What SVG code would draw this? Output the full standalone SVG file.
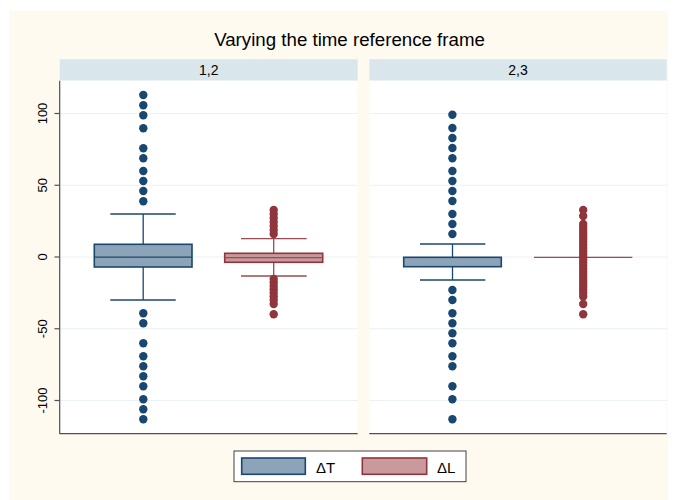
<svg xmlns="http://www.w3.org/2000/svg" width="678" height="500" viewBox="0 0 678 500">
<style>
text{font-family:"Liberation Sans",Arial,sans-serif;fill:#000}
.grid{stroke:#EAF2F3;stroke-width:1.2}
.axis{stroke:#505050;stroke-width:1.2}
.hdr{fill:#D9E6EB}
.bd{fill:#1a476f}
.rd{fill:#90353b}
.bbox{fill:#8DA3B8;stroke:#1a476f;stroke-width:1.6}
.rbox{fill:#C7989C;stroke:#90353b;stroke-width:1.6}
.bl{stroke:#1a476f;stroke-width:1.3;fill:none}
.rl{stroke:#9a4a50;stroke-width:1.3;fill:none}
.tick{font-size:13px}
</style>
<defs>
<circle id="b" r="4.2" class="bd"/>
<circle id="r" r="4.2" class="rd"/>
</defs>
<rect x="0" y="0" width="678" height="500" fill="#FFFFFF"/>
<rect x="9" y="11" width="659" height="489" fill="#FFFAEF"/>
<text x="349.5" y="46" font-size="18.7" text-anchor="middle">Varying the time reference frame</text>

<g id="panel-12">
<rect class="hdr" x="59.7" y="59.3" width="298" height="21.4"/>
<text x="208.7" y="74.5" font-size="14" text-anchor="middle">1,2</text>
<rect x="59.7" y="80.7" width="298" height="353" fill="#FFFFFF"/>
<g>
<line class="grid" x1="60" y1="113.5" x2="357.7" y2="113.5"/>
<line class="grid" x1="60" y1="185.25" x2="357.7" y2="185.25"/>
<line class="grid" x1="60" y1="257" x2="357.7" y2="257"/>
<line class="grid" x1="60" y1="328.75" x2="357.7" y2="328.75"/>
<line class="grid" x1="60" y1="400.5" x2="357.7" y2="400.5"/>
</g>
<g id="box-dT-12">
<line class="bl" x1="143.2" y1="214" x2="143.2" y2="244.3"/>
<line class="bl" x1="143.2" y1="267" x2="143.2" y2="300"/>
<line class="bl" x1="110.3" y1="214" x2="175.7" y2="214"/>
<line class="bl" x1="110.3" y1="300" x2="175.7" y2="300"/>
<rect class="bbox" x="94.3" y="244.3" width="97.7" height="22.7"/>
<line class="bl" x1="94.3" y1="257.2" x2="192" y2="257.2" stroke-width="1.5"/>
<use href="#b" x="143.3" y="95"/><use href="#b" x="143.3" y="105.3"/><use href="#b" x="143.3" y="115.3"/><use href="#b" x="143.3" y="128.3"/><use href="#b" x="143.3" y="148.3"/><use href="#b" x="143.3" y="158.3"/><use href="#b" x="143.3" y="171"/><use href="#b" x="143.3" y="181"/><use href="#b" x="143.3" y="191"/><use href="#b" x="143.3" y="201.3"/>
<use href="#b" x="143.3" y="313.3"/><use href="#b" x="143.3" y="323.3"/><use href="#b" x="143.3" y="343.3"/><use href="#b" x="143.3" y="356.3"/><use href="#b" x="143.3" y="366.3"/><use href="#b" x="143.3" y="376.3"/><use href="#b" x="143.3" y="386.3"/><use href="#b" x="143.3" y="399.3"/><use href="#b" x="143.3" y="409.3"/><use href="#b" x="143.3" y="419.3"/>
</g>
<g id="box-dL-12">
<line class="rl" x1="273.7" y1="238.7" x2="273.7" y2="253.3"/>
<line class="rl" x1="273.7" y1="262.3" x2="273.7" y2="276"/>
<line class="rl" x1="241" y1="238.7" x2="306.7" y2="238.7"/>
<line class="rl" x1="241" y1="276" x2="306.7" y2="276"/>
<rect class="rbox" x="224.7" y="253.3" width="98" height="9"/>
<line class="rl" x1="224.7" y1="257.6" x2="322.7" y2="257.6"/>
<use href="#r" x="273.7" y="210"/><use href="#r" x="273.7" y="214"/><use href="#r" x="273.7" y="218"/><use href="#r" x="273.7" y="222"/><use href="#r" x="273.7" y="226"/><use href="#r" x="273.7" y="230"/><use href="#r" x="273.7" y="234"/>
<use href="#r" x="273.7" y="279"/><use href="#r" x="273.7" y="282.5"/><use href="#r" x="273.7" y="286"/><use href="#r" x="273.7" y="289.5"/><use href="#r" x="273.7" y="293"/><use href="#r" x="273.7" y="296.5"/><use href="#r" x="273.7" y="300"/><use href="#r" x="273.7" y="304"/><use href="#r" x="273.7" y="314.3"/>
</g>
<g id="axis-y">
<line class="axis" x1="59.7" y1="80.7" x2="59.7" y2="434"/>
<line class="axis" x1="59.7" y1="433.7" x2="357.7" y2="433.7"/>
<line class="axis" x1="54.5" y1="113.5" x2="59.7" y2="113.5"/>
<line class="axis" x1="54.5" y1="185.25" x2="59.7" y2="185.25"/>
<line class="axis" x1="54.5" y1="257" x2="59.7" y2="257"/>
<line class="axis" x1="54.5" y1="328.75" x2="59.7" y2="328.75"/>
<line class="axis" x1="54.5" y1="400.5" x2="59.7" y2="400.5"/>
<text class="tick" transform="translate(46.7,113.5) rotate(-90)" text-anchor="middle">100</text>
<text class="tick" transform="translate(46.7,185.25) rotate(-90)" text-anchor="middle">50</text>
<text class="tick" transform="translate(46.7,257) rotate(-90)" text-anchor="middle">0</text>
<text class="tick" transform="translate(46.7,328.75) rotate(-90)" text-anchor="middle">-50</text>
<text class="tick" transform="translate(46.7,400.5) rotate(-90)" text-anchor="middle">-100</text>
</g>
</g>

<g id="panel-23">
<rect class="hdr" x="369.3" y="59.3" width="297.4" height="21.4"/>
<text x="518" y="74.5" font-size="14" text-anchor="middle">2,3</text>
<rect x="369.3" y="80.7" width="297.4" height="353" fill="#FFFFFF"/>
<g>
<line class="grid" x1="369.3" y1="113.5" x2="666.7" y2="113.5"/>
<line class="grid" x1="369.3" y1="185.25" x2="666.7" y2="185.25"/>
<line class="grid" x1="369.3" y1="257" x2="666.7" y2="257"/>
<line class="grid" x1="369.3" y1="328.75" x2="666.7" y2="328.75"/>
<line class="grid" x1="369.3" y1="400.5" x2="666.7" y2="400.5"/>
</g>
<line class="axis" x1="369.3" y1="433.7" x2="666.7" y2="433.7"/>
<g id="box-dT-23">
<line class="bl" x1="452.5" y1="244" x2="452.5" y2="257.3"/>
<line class="bl" x1="452.5" y1="266.7" x2="452.5" y2="280"/>
<line class="bl" x1="420" y1="244" x2="485.3" y2="244"/>
<line class="bl" x1="420" y1="280" x2="485.3" y2="280"/>
<rect class="bbox" x="403.7" y="257.3" width="97.6" height="9.4"/>
<use href="#b" x="452.4" y="114.7"/><use href="#b" x="452.4" y="128"/><use href="#b" x="452.4" y="138"/><use href="#b" x="452.4" y="148"/><use href="#b" x="452.4" y="158.3"/><use href="#b" x="452.4" y="171"/><use href="#b" x="452.4" y="181"/><use href="#b" x="452.4" y="191"/><use href="#b" x="452.4" y="201"/><use href="#b" x="452.4" y="214"/><use href="#b" x="452.4" y="224"/><use href="#b" x="452.4" y="234"/>
<use href="#b" x="452.4" y="290"/><use href="#b" x="452.4" y="300"/><use href="#b" x="452.4" y="313.3"/><use href="#b" x="452.4" y="323.3"/><use href="#b" x="452.4" y="333.3"/><use href="#b" x="452.4" y="343.3"/><use href="#b" x="452.4" y="356.3"/><use href="#b" x="452.4" y="366.3"/><use href="#b" x="452.4" y="386.3"/><use href="#b" x="452.4" y="399.3"/><use href="#b" x="452.4" y="419.3"/>
</g>
<g id="box-dL-23">
<line class="rl" x1="534" y1="257.3" x2="632.3" y2="257.3"/>
<use href="#r" x="583.2" y="210"/><use href="#r" x="583.2" y="216"/>
<use href="#r" x="583.2" y="224"/><use href="#r" x="583.2" y="227"/><use href="#r" x="583.2" y="230"/><use href="#r" x="583.2" y="233"/><use href="#r" x="583.2" y="236"/><use href="#r" x="583.2" y="239"/><use href="#r" x="583.2" y="242"/><use href="#r" x="583.2" y="245"/><use href="#r" x="583.2" y="248"/><use href="#r" x="583.2" y="251"/><use href="#r" x="583.2" y="254"/><use href="#r" x="583.2" y="257"/><use href="#r" x="583.2" y="260"/><use href="#r" x="583.2" y="263"/><use href="#r" x="583.2" y="266"/><use href="#r" x="583.2" y="269"/><use href="#r" x="583.2" y="272"/><use href="#r" x="583.2" y="275"/><use href="#r" x="583.2" y="278"/><use href="#r" x="583.2" y="281"/><use href="#r" x="583.2" y="284"/><use href="#r" x="583.2" y="287"/><use href="#r" x="583.2" y="290"/><use href="#r" x="583.2" y="293"/><use href="#r" x="583.2" y="296.5"/>
<use href="#r" x="583.2" y="304"/><use href="#r" x="583.2" y="314.3"/>
</g>
</g>

<g id="legend">
<rect x="234" y="451" width="232" height="30.7" fill="#FFFFFF" stroke="#404040" stroke-width="1"/>
<rect class="bbox" x="241.7" y="458" width="63.6" height="16.3"/>
<text x="316" y="472.5" font-size="15">ΔT</text>
<rect class="rbox" x="362.3" y="458" width="64.4" height="16.3" style="fill:#C9999D"/>
<text x="437" y="472.5" font-size="15">ΔL</text>
</g>
</svg>
